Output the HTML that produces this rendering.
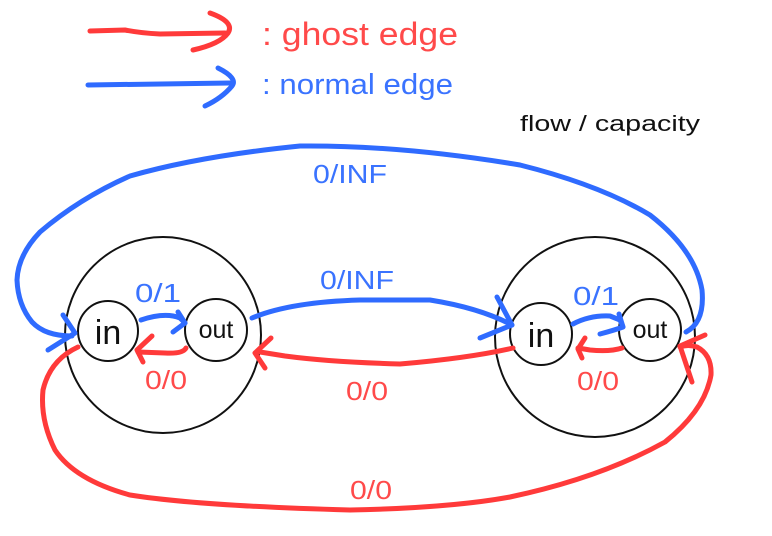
<!DOCTYPE html>
<html><head><style>
html,body{margin:0;padding:0;background:#fff;}
svg{display:block;}
text{font-family:"Liberation Sans","DejaVu Sans",sans-serif;}
</style></head><body>
<svg width="772" height="536" viewBox="0 0 772 536" xmlns="http://www.w3.org/2000/svg">
<g fill="none" stroke-linecap="round" stroke-linejoin="round">
<path d="M90 31 L125 30 Q140 33 160 34 L225 33" stroke="#ff3a3a" stroke-width="5"/>
<path d="M210 13 Q235 22 228 33 Q220 44 193 50" stroke="#ff3a3a" stroke-width="5"/>
<path d="M88 85 L230 83" stroke="#2f6bff" stroke-width="5"/>
<path d="M218 68 Q238 78 232 86 Q222 98 205 106" stroke="#2f6bff" stroke-width="5"/>
<g stroke="#111" stroke-width="2">
<circle cx="163" cy="335" r="98"/>
<circle cx="108" cy="331" r="30"/>
<circle cx="216" cy="330" r="31"/>
<circle cx="595" cy="337" r="100"/>
<circle cx="541" cy="334" r="31"/>
<circle cx="650" cy="330" r="31"/>
</g>
<path d="M72 336 Q45 336 32 322 Q18 305 17 280 Q18 255 40 232 Q80 198 130 176 Q200 156 300 146 Q400 145 520 165 Q600 185 650 215 Q695 250 702 290 Q705 322 686 332" stroke="#2f6bff" stroke-width="5"/>
<path d="M63 315 L75 333 L48 350" stroke="#2f6bff" stroke-width="5"/>
<path d="M252 318 Q290 302 360 300 L430 300 Q480 308 512 325" stroke="#2f6bff" stroke-width="5"/>
<path d="M497 297 L512 325 L480 338" stroke="#2f6bff" stroke-width="5"/>
<path d="M141 320 Q165 312 180 318 L185 323" stroke="#2f6bff" stroke-width="5"/>
<path d="M178 312 L185 323 L173 332" stroke="#2f6bff" stroke-width="5"/>
<path d="M573 324 Q590 315 610 316 L620 320 L623 327 Q615 330 600 334" stroke="#2f6bff" stroke-width="5"/>
<path d="M619 314 L623 327" stroke="#2f6bff" stroke-width="5"/>
<path d="M186 348 Q183 354 165 353 L138 352" stroke="#ff3a3a" stroke-width="5"/>
<path d="M152 336 L137 350 L143 362" stroke="#ff3a3a" stroke-width="5"/>
<path d="M622 348 Q610 352 590 350 L578 348" stroke="#ff3a3a" stroke-width="5"/>
<path d="M585 338 L578 349 L582 358" stroke="#ff3a3a" stroke-width="5"/>
<path d="M513 348 Q470 358 400 364 Q330 362 285 356 L260 352" stroke="#ff3a3a" stroke-width="5"/>
<path d="M271 338 L255 353 L265 368" stroke="#ff3a3a" stroke-width="5"/>
<path d="M78 347 Q50 360 43 390 Q40 420 55 450 Q75 480 130 495 Q200 506 350 510 Q450 508 510 497 Q600 478 665 442 Q705 410 711 375 Q712 355 697 347 Q688 344 680 347" stroke="#ff3a3a" stroke-width="5"/>
<path d="M705 335 L680 346 L692 382" stroke="#ff3a3a" stroke-width="5"/>
</g>
<text x="262" y="45" fill="#ff4a4a" font-size="32" textLength="196" lengthAdjust="spacingAndGlyphs">: ghost edge</text>
<text x="262" y="94" fill="#3a73ff" font-size="29" textLength="191" lengthAdjust="spacingAndGlyphs">: normal edge</text>
<text x="520" y="131" fill="#111" font-size="22" textLength="180" lengthAdjust="spacingAndGlyphs">flow / capacity</text>
<g font-size="26" fill="#3a73ff">
<text x="313" y="183" textLength="74" lengthAdjust="spacingAndGlyphs">0/INF</text>
<text x="320" y="289" textLength="74" lengthAdjust="spacingAndGlyphs">0/INF</text>
<text x="135" y="302" textLength="46" lengthAdjust="spacingAndGlyphs">0/1</text>
<text x="573" y="305" textLength="46" lengthAdjust="spacingAndGlyphs">0/1</text>
</g>
<g font-size="26" fill="#ff4a4a">
<text x="145" y="389" textLength="42" lengthAdjust="spacingAndGlyphs">0/0</text>
<text x="346" y="400" textLength="42" lengthAdjust="spacingAndGlyphs">0/0</text>
<text x="350" y="499" textLength="42" lengthAdjust="spacingAndGlyphs">0/0</text>
<text x="577" y="390" textLength="42" lengthAdjust="spacingAndGlyphs">0/0</text>
</g>
<g font-size="34" fill="#111">
<text x="108" y="344" text-anchor="middle">in</text>
<text x="541" y="347" text-anchor="middle">in</text>
</g>
<g font-size="25" fill="#111">
<text x="216" y="338" text-anchor="middle">out</text>
<text x="650" y="338" text-anchor="middle">out</text>
</g>
</svg>
</body></html>
